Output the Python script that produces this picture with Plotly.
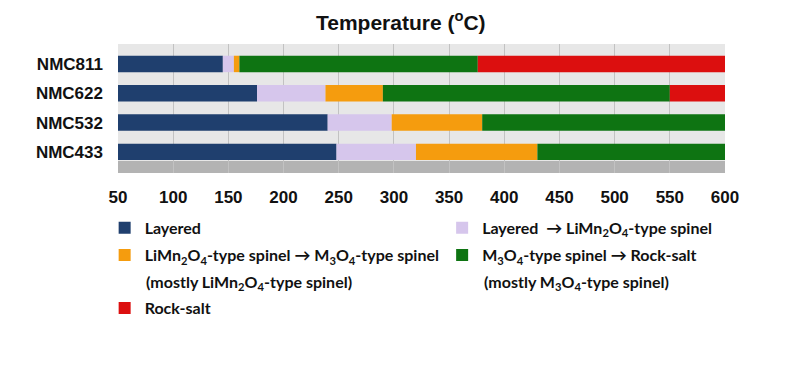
import plotly.graph_objects as go

samples = ["NMC433", "NMC532", "NMC622", "NMC811"]
start = [50, 50, 50, 50]
layered_end = [248, 240, 176, 145]
transition1_end = [320, 298, 238, 155]
spinel_end = [430, 380, 290, 160]
m3o4_end = [600, 600, 550, 376]
rocksalt_end = [600, 600, 600, 600]

phase_names = [
    "Layered",
    "Layered  \u2192 LiMn<sub>2</sub>O<sub>4</sub>-type spinel",
    "LiMn<sub>2</sub>O<sub>4</sub>-type spinel \u2192 M<sub>3</sub>O<sub>4</sub>-type spinel",
    "M<sub>3</sub>O<sub>4</sub>-type spinel \u2192 Rock-salt",
    "Rock-salt",
]
phase_notes = [
    "",
    "",
    "(mostly LiMn<sub>2</sub>O<sub>4</sub>-type spinel)",
    "(mostly M<sub>3</sub>O<sub>4</sub>-type spinel)",
    "",
]
colors = ["#1f3f6e", "#d6c6ec", "#f59c0e", "#0e7412", "#dc0f0f"]

bounds = [start, layered_end, transition1_end, spinel_end, m3o4_end, rocksalt_end]

# legend placement (paper coords): one legend box per entry
leg_ids = ["legend", "legend2", "legend3", "legend4", "legend5"]
leg_x = [-0.022, 0.534, -0.022, 0.534, -0.022]
leg_y = [-0.426, -0.426, -0.636, -0.636, -1.047]
note_x = [0.0425, 0.5997, 0.0425, 0.5997, 0.0425]
note_y = -0.845

legend_font = dict(family="Lato, Open Sans", size=16, color="#111111", weight="bold")

fig = go.Figure()
for i, name in enumerate(phase_names):
    lo = bounds[i]
    hi = bounds[i + 1]
    fig.add_trace(go.Bar(
        y=samples,
        x=[h - l for h, l in zip(hi, lo)],
        base=lo,
        orientation="h",
        name=name,
        legend=leg_ids[i],
        marker=dict(color=colors[i], line=dict(width=0)),
        width=0.56,
        hoverinfo="x+name",
    ))

layout_legends = {}
for i, lid in enumerate(leg_ids):
    layout_legends[lid] = dict(x=leg_x[i], xanchor="left", y=leg_y[i], yanchor="middle",
                               font=legend_font, itemwidth=30, bgcolor="rgba(0,0,0,0)",
                               borderwidth=0)

annotations = []
for i, note in enumerate(phase_notes):
    if note:
        annotations.append(dict(text=note, xref="paper", yref="paper", x=note_x[i], y=note_y,
                                xanchor="left", yanchor="middle", showarrow=False,
                                font=legend_font))

fig.update_layout(
    width=800, height=381,
    margin=dict(l=110, r=83, t=36, b=216, autoexpand=False),
    paper_bgcolor="white",
    plot_bgcolor="#e7e7e7",
    barmode="overlay",
    title=dict(text="<b>Temperature (<sup>o</sup>C)</b>", x=0.491, xanchor="center",
               xref="container", yref="container", y=0.962, yanchor="middle",
               font=dict(family="Liberation Sans, Arial", size=21, color="#111111")),
    font=dict(family="Liberation Sans, Arial", color="#111111"),
    xaxis=dict(range=[50, 600], tickvals=[50, 100, 150, 200, 250, 300, 350, 400, 450, 500, 550, 600],
               showgrid=True, gridcolor="#c2c2c2", gridwidth=1, zeroline=False,
               tickfont=dict(size=17, family="Liberation Sans, Arial", color="#111111", weight="bold"),
               ticks="", showline=False, automargin=False, ticklabelstandoff=12),
    yaxis=dict(range=[-0.72, 3.68], showgrid=False, zeroline=False, automargin=False,
               tickfont=dict(size=17, family="Liberation Sans, Arial", color="#111111", weight="bold"),
               ticks="", ticklabelstandoff=14),
    showlegend=True,
    annotations=annotations,
    shapes=[dict(type="rect", xref="x domain", yref="y domain", x0=0, x1=1, y0=0, y1=0.093,
                 fillcolor="#b3b3b3", line=dict(width=0), layer="below")],
    **layout_legends,
)

fig.write_html("out.html")
